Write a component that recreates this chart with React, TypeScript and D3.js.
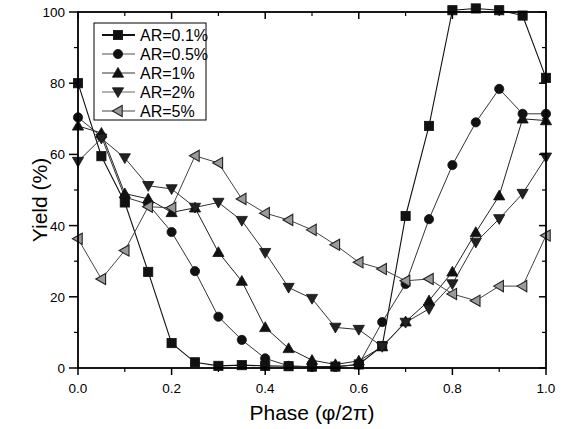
import React from "react";
import * as d3 from "d3";

const phase = [0, 0.05, 0.1, 0.15, 0.2, 0.25, 0.3, 0.35, 0.4, 0.45, 0.5, 0.55, 0.6, 0.65, 0.7, 0.75, 0.8, 0.85, 0.9, 0.95, 1.0];
const ar01 = [80, 59.5, 46.5, 27, 7, 1.6, 0.6, 0.8, 0.6, 0.5, 0.4, 0.4, 1, 6.2, 42.7, 68, 100.5, 101, 100.5, 99, 81.5];
const ar05 = [70.4, 65, 48, 46, 38.2, 27.2, 14.4, 7.9, 2.7, 0.6, 0.3, 0.3, 1, 12.9, 23.6, 41.8, 57, 69, 78.4, 71.4, 71.4];
const ar1 = [68, 66, 49, 47.5, 43.7, 45, 32.5, 24.4, 11.4, 5.5, 2.2, 1, 2, 6, 13, 18.9, 27, 38.1, 48.4, 70, 69.5];
const ar2 = [58, 64.5, 59, 51.2, 50.3, 45.1, 46.5, 41.4, 32.4, 22.6, 19.5, 11.4, 10.8, 6, 12.8, 16.6, 23.6, 35.3, 41.9, 49, 59.2];
const ar5 = [36.3, 25, 33, 45.3, 45, 59.6, 57.6, 47.5, 43.5, 41.6, 38.8, 34.6, 29.7, 27.8, 24.5, 25, 20.8, 18.9, 23, 23, 37.2];

const seriesNames = ["AR=0.1%", "AR=0.5%", "AR=1%", "AR=2%", "AR=5%"];
const xMajor = [0, 0.2, 0.4, 0.6, 0.8, 1.0];
const xMinor = [0.1, 0.3, 0.5, 0.7, 0.9];
const yMajor = [0, 20, 40, 60, 80, 100];
const yMinor = [10, 30, 50, 70, 90];

const W = 566, H = 429;
const L = 78, R = 546, T = 12, B = 368;
const FONT = "'Liberation Sans', Arial, Helvetica, sans-serif";

type Kind = "square" | "circle" | "up" | "down" | "left";

function Marker({ kind, x, y, fill, stroke }: { kind: Kind; x: number; y: number; fill: string; stroke: string }) {
  const s = 4.6;
  if (kind === "square") return <rect x={x - s} y={y - s} width={2 * s} height={2 * s} fill={fill} stroke={stroke} strokeWidth={0.8} />;
  if (kind === "circle") return <circle cx={x} cy={y} r={s} fill={fill} stroke={stroke} strokeWidth={0.8} />;
  const t = 5.6;
  let pts: [number, number][] = [];
  if (kind === "up") pts = [[x, y - t], [x + t, y + t * 0.75], [x - t, y + t * 0.75]];
  if (kind === "down") pts = [[x, y + t], [x + t, y - t * 0.75], [x - t, y - t * 0.75]];
  if (kind === "left") pts = [[x - t, y], [x + t * 0.75, y - t], [x + t * 0.75, y + t]];
  return <polygon points={pts.map((p) => p.join(",")).join(" ")} fill={fill} stroke={stroke} strokeWidth={kind === "left" ? 1.1 : 0.8} />;
}

export default function App() {
  const x = d3.scaleLinear().domain([0, 1]).range([L, R]);
  const y = d3.scaleLinear().domain([0, 100]).range([B, T]);

  const series = [
    { name: seriesNames[0], data: ar01, kind: "square" as Kind, line: "#111", lw: 1.1, fill: "#111", stroke: "#111", legLine: "#111", legW: 1.8 },
    { name: seriesNames[1], data: ar05, kind: "circle" as Kind, line: "#333", lw: 1, fill: "#111", stroke: "#111", legLine: "#888", legW: 1.4 },
    { name: seriesNames[2], data: ar1, kind: "up" as Kind, line: "#222", lw: 1, fill: "#111", stroke: "#111", legLine: "#333", legW: 1 },
    { name: seriesNames[3], data: ar2, kind: "down" as Kind, line: "#333", lw: 1, fill: "#222", stroke: "#111", legLine: "#666", legW: 1.2 },
    { name: seriesNames[4], data: ar5, kind: "left" as Kind, line: "#444", lw: 1, fill: "#9a9a9a", stroke: "#222", legLine: "#444", legW: 1.2 },
  ];

  const line = d3.line<number>().x((_, i) => x(phase[i])).y((d) => y(d));

  const legX = 94, legY = 23, legW = 112, legH = 97;
  const rowY = (i: number) => legY + 12 + i * 19;

  return (
    <svg width={W} height={H} style={{ position: "absolute", left: 0, top: 0, background: "#fff" }} fontFamily={FONT}>
      <rect x={0} y={0} width={W} height={H} fill="#fff" />
      {/* data lines */}
      {series.map((s) => (
        <path key={s.name + "l"} d={line(s.data) || ""} fill="none" stroke={s.line} strokeWidth={s.lw} />
      ))}
      {series.map((s) =>
        s.data.map((v, i) => (
          <Marker key={s.name + i} kind={s.kind} x={x(phase[i])} y={y(v)} fill={s.fill} stroke={s.stroke} />
        ))
      )}
      {/* frame */}
      <rect x={L} y={T} width={R - L} height={B - T} fill="none" stroke="#000" strokeWidth={1.8} />
      {/* bottom ticks */}
      {xMajor.map((t) => (
        <g key={"xM" + t}>
          <line x1={x(t)} x2={x(t)} y1={B} y2={B + 7} stroke="#000" strokeWidth={1.5} />
          <line x1={x(t)} x2={x(t)} y1={T} y2={T + 7} stroke="#000" strokeWidth={1.5} />
          <text x={x(t)} y={B + 25} fontSize={13.5} textAnchor="middle" fill="#000">{d3.format(".1f")(t)}</text>
        </g>
      ))}
      {xMinor.map((t) => (
        <g key={"xm" + t}>
          <line x1={x(t)} x2={x(t)} y1={B} y2={B + 4} stroke="#000" strokeWidth={1.2} />
          <line x1={x(t)} x2={x(t)} y1={T} y2={T + 4} stroke="#000" strokeWidth={1.2} />
        </g>
      ))}
      {yMajor.map((t) => (
        <g key={"yM" + t}>
          <line x1={L - 9} x2={L} y1={y(t)} y2={y(t)} stroke="#000" strokeWidth={1.5} />
          <line x1={R - 7} x2={R} y1={y(t)} y2={y(t)} stroke="#000" strokeWidth={1.5} />
          <text x={L - 13} y={y(t) + 5} fontSize={13.5} textAnchor="end" fill="#000">{t}</text>
        </g>
      ))}
      {yMinor.map((t) => (
        <g key={"ym" + t}>
          <line x1={L - 4} x2={L} y1={y(t)} y2={y(t)} stroke="#000" strokeWidth={1.2} />
          <line x1={R - 4} x2={R} y1={y(t)} y2={y(t)} stroke="#000" strokeWidth={1.2} />
        </g>
      ))}
      {/* axis titles */}
      <text x={(L + R) / 2} y={420} fontSize={21} textAnchor="middle" fill="#000">Phase (φ/2π)</text>
      <text transform={`translate(47,${(T + B) / 2 + 10}) rotate(-90)`} fontSize={21} textAnchor="middle" fill="#000">Yield (%)</text>
      {/* legend */}
      <rect x={legX} y={legY} width={legW} height={legH} fill="#fff" stroke="#000" strokeWidth={1} />
      {series.map((s, i) => (
        <g key={s.name + "leg"}>
          <line x1={legX + 8} x2={legX + 41} y1={rowY(i)} y2={rowY(i)} stroke={s.legLine} strokeWidth={s.legW} />
          <Marker kind={s.kind} x={legX + 24} y={rowY(i)} fill={s.fill} stroke={s.stroke} />
          <text x={legX + 46} y={rowY(i) + 6} fontSize={16} fill="#000">{s.name}</text>
        </g>
      ))}
    </svg>
  );
}
